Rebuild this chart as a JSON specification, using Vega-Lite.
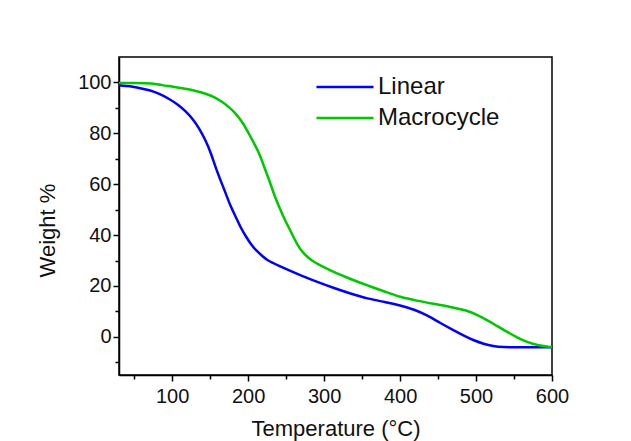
{
  "$schema": "https://vega.github.io/schema/vega-lite/v6.json",
  "width": 433,
  "height": 318,
  "autosize": {"type": "none"},
  "padding": {"left": 119, "top": 57, "right": 79, "bottom": 66},
  "background": "white",
  "config": {
    "view": {"stroke": "black", "strokeWidth": 1.5},
    "font": "Liberation Sans",
    "axis": {"labelFont": "Liberation Sans", "titleFont": "Liberation Sans", "labelColor": "#111", "titleColor": "#111", "domainColor": "black", "tickColor": "black", "domainWidth": 1.5, "tickWidth": 1.5, "grid": false}
  },
  "data": {"values": [
    {"series": "Linear", "t": 30, "w": 98.9},
    {"series": "Linear", "t": 45, "w": 98.5},
    {"series": "Linear", "t": 56, "w": 97.9},
    {"series": "Linear", "t": 70, "w": 97.0},
    {"series": "Linear", "t": 83, "w": 95.6},
    {"series": "Linear", "t": 96, "w": 93.6},
    {"series": "Linear", "t": 109, "w": 91.0},
    {"series": "Linear", "t": 118, "w": 88.6},
    {"series": "Linear", "t": 127, "w": 85.7},
    {"series": "Linear", "t": 136, "w": 81.8},
    {"series": "Linear", "t": 144, "w": 77.2},
    {"series": "Linear", "t": 151, "w": 72.3},
    {"series": "Linear", "t": 157, "w": 66.7},
    {"series": "Linear", "t": 164, "w": 61.3},
    {"series": "Linear", "t": 171, "w": 56.0},
    {"series": "Linear", "t": 177, "w": 51.2},
    {"series": "Linear", "t": 184, "w": 47.0},
    {"series": "Linear", "t": 190, "w": 43.0},
    {"series": "Linear", "t": 197, "w": 39.5},
    {"series": "Linear", "t": 204, "w": 36.2},
    {"series": "Linear", "t": 212, "w": 33.5},
    {"series": "Linear", "t": 219, "w": 31.7},
    {"series": "Linear", "t": 225, "w": 30.1},
    {"series": "Linear", "t": 240, "w": 28.0},
    {"series": "Linear", "t": 255, "w": 26.0},
    {"series": "Linear", "t": 269, "w": 24.2},
    {"series": "Linear", "t": 290, "w": 21.7},
    {"series": "Linear", "t": 312, "w": 19.3},
    {"series": "Linear", "t": 335, "w": 17.0},
    {"series": "Linear", "t": 357, "w": 15.0},
    {"series": "Linear", "t": 380, "w": 13.7},
    {"series": "Linear", "t": 400, "w": 12.4},
    {"series": "Linear", "t": 420, "w": 10.6},
    {"series": "Linear", "t": 436, "w": 8.4},
    {"series": "Linear", "t": 452, "w": 5.6},
    {"series": "Linear", "t": 471, "w": 2.5},
    {"series": "Linear", "t": 485, "w": 0.3},
    {"series": "Linear", "t": 497, "w": -1.4},
    {"series": "Linear", "t": 510, "w": -2.8},
    {"series": "Linear", "t": 523, "w": -3.7},
    {"series": "Linear", "t": 534, "w": -4.1},
    {"series": "Linear", "t": 560, "w": -4.1},
    {"series": "Linear", "t": 600, "w": -4.1},
    {"series": "Macrocycle", "t": 30, "w": 99.8},
    {"series": "Macrocycle", "t": 50, "w": 99.8},
    {"series": "Macrocycle", "t": 74, "w": 99.7},
    {"series": "Macrocycle", "t": 87, "w": 98.9},
    {"series": "Macrocycle", "t": 100, "w": 98.4},
    {"series": "Macrocycle", "t": 118, "w": 97.5},
    {"series": "Macrocycle", "t": 131, "w": 96.7},
    {"series": "Macrocycle", "t": 144, "w": 95.6},
    {"series": "Macrocycle", "t": 156, "w": 94.2},
    {"series": "Macrocycle", "t": 166, "w": 92.3},
    {"series": "Macrocycle", "t": 175, "w": 90.3},
    {"series": "Macrocycle", "t": 184, "w": 87.7},
    {"series": "Macrocycle", "t": 193, "w": 84.2},
    {"series": "Macrocycle", "t": 201, "w": 79.8},
    {"series": "Macrocycle", "t": 208, "w": 76.0},
    {"series": "Macrocycle", "t": 215, "w": 71.9},
    {"series": "Macrocycle", "t": 221, "w": 66.8},
    {"series": "Macrocycle", "t": 228, "w": 61.5},
    {"series": "Macrocycle", "t": 234, "w": 56.0},
    {"series": "Macrocycle", "t": 241, "w": 50.9},
    {"series": "Macrocycle", "t": 249, "w": 45.5},
    {"series": "Macrocycle", "t": 258, "w": 40.4},
    {"series": "Macrocycle", "t": 265, "w": 36.0},
    {"series": "Macrocycle", "t": 273, "w": 32.7},
    {"series": "Macrocycle", "t": 285, "w": 29.6},
    {"series": "Macrocycle", "t": 297, "w": 27.8},
    {"series": "Macrocycle", "t": 312, "w": 25.5},
    {"series": "Macrocycle", "t": 335, "w": 22.7},
    {"series": "Macrocycle", "t": 357, "w": 20.2},
    {"series": "Macrocycle", "t": 380, "w": 17.8},
    {"series": "Macrocycle", "t": 400, "w": 15.6},
    {"series": "Macrocycle", "t": 422, "w": 14.2},
    {"series": "Macrocycle", "t": 444, "w": 13.0},
    {"series": "Macrocycle", "t": 466, "w": 11.8},
    {"series": "Macrocycle", "t": 488, "w": 10.4},
    {"series": "Macrocycle", "t": 502, "w": 8.6},
    {"series": "Macrocycle", "t": 515, "w": 6.5},
    {"series": "Macrocycle", "t": 528, "w": 4.2},
    {"series": "Macrocycle", "t": 541, "w": 1.9},
    {"series": "Macrocycle", "t": 554, "w": -0.2},
    {"series": "Macrocycle", "t": 567, "w": -2.1},
    {"series": "Macrocycle", "t": 582, "w": -3.4},
    {"series": "Macrocycle", "t": 600, "w": -4.1}
  ]},
  "layer": [
    {
      "mark": {"type": "line", "strokeWidth": 2.5, "interpolate": "basis", "clip": true},
      "encoding": {
        "x": {"field": "t", "type": "quantitative", "scale": {"domain": [30, 600], "nice": false, "zero": false},
          "axis": {"orient": "bottom", "values": [100, 200, 300, 400, 500, 600], "title": "Temperature (°C)", "labelFontSize": 20, "titleFontSize": 22, "titleFontWeight": "normal", "tickSize": 6, "labelPadding": 5, "titlePadding": 12, "labelFlush": false}},
        "y": {"field": "w", "type": "quantitative", "scale": {"domain": [-15, 110], "nice": false, "zero": false},
          "axis": {"orient": "left", "values": [0, 20, 40, 60, 80, 100], "title": "Weight %", "labelFontSize": 20, "titleFontSize": 22, "titleFontWeight": "normal", "tickSize": 6, "labelPadding": 2, "titlePadding": 18, "titleY": 173, "labelFlush": false}},
        "color": {"field": "series", "type": "nominal", "scale": {"domain": ["Linear", "Macrocycle"], "range": ["#0000ff", "#00c800"]},
          "legend": {"title": null, "orient": "none", "legendX": 213, "legendY": 17, "symbolType": "M-2.5,0H2.5", "symbolSize": 520, "symbolStrokeWidth": 2.5, "symbolFillColor": "transparent", "labelFontSize": 24, "labelFont": "Liberation Sans", "labelColor": "#111", "labelOffset": 20, "rowPadding": 6}}
      }
    },
    {
      "mark": {"type": "line", "opacity": 0},
      "encoding": {
        "x": {"field": "t", "type": "quantitative", "axis": {"orient": "bottom", "values": [50, 150, 250, 350, 450, 550], "labels": false, "domain": false, "title": null, "tickSize": 4}},
        "y": {"field": "w", "type": "quantitative", "axis": {"orient": "left", "values": [-10, 10, 30, 50, 70, 90], "labels": false, "domain": false, "title": null, "tickSize": 4}},
        "detail": {"field": "series"}
      }
    }
  ],
  "resolve": {"axis": {"x": "independent", "y": "independent"}}
}
